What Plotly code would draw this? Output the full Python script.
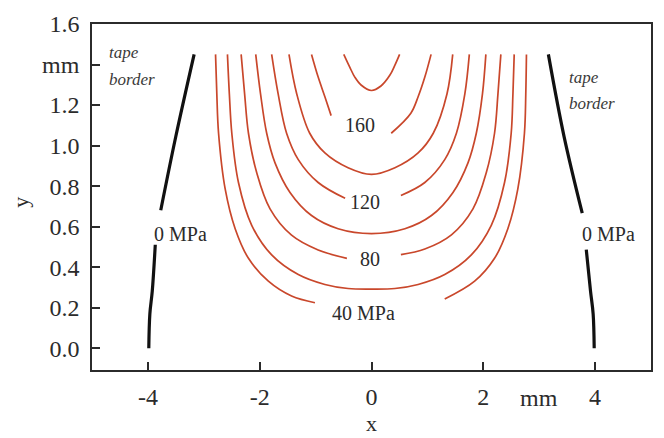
import plotly.graph_objects as go

# ---- contour polylines of the stress field (x in mm, y in mm) ----
# 180 MPa (closed U, no label)
c180_x = [-0.496, -0.389, -0.299, -0.187, 0.0, 0.169, 0.330, 0.419, 0.503]
c180_y = [1.450, 1.387, 1.338, 1.299, 1.272, 1.294, 1.348, 1.397, 1.450]

# 160 MPa (split by its label)
c160a_x = [-1.073, -0.954, -0.834, -0.722]
c160a_y = [1.450, 1.338, 1.241, 1.148]
c160b_x = [0.353, 0.704, 0.834, 0.954, 1.066]
c160b_y = [1.061, 1.160, 1.241, 1.338, 1.450]

# 140 MPa
c140_x = [-1.476, -1.337, -1.105, -0.834, -0.419, 0.0, 0.419, 0.834, 1.105, 1.350, 1.453]
c140_y = [1.450, 1.255, 1.061, 0.964, 0.891, 0.858, 0.891, 0.964, 1.061, 1.255, 1.450]

# 120 MPa (split by its label)
c120a_x = [-1.786, -1.670, -1.519, -1.310, -0.954, -0.472]
c120a_y = [1.450, 1.255, 1.061, 0.931, 0.818, 0.740]
c120b_x = [0.526, 0.954, 1.310, 1.519, 1.670, 1.750]
c120b_y = [0.754, 0.818, 0.931, 1.061, 1.255, 1.450]

# 100 MPa
c100_x = [-2.071, -1.985, -1.875, -1.726, -1.458, -1.073, -0.597, 0.0,
          0.597, 1.073, 1.458, 1.726, 1.875, 1.985, 2.046]
c100_y = [1.450, 1.255, 1.061, 0.915, 0.769, 0.655, 0.590, 0.566,
          0.590, 0.655, 0.769, 0.915, 1.061, 1.255, 1.450]

# 80 MPa (split by its label)
c80a_x = [-2.332, -2.270, -2.201, -2.053, -1.815, -1.430, -0.954, -0.440]
c80a_y = [1.450, 1.255, 1.061, 0.866, 0.688, 0.558, 0.485, 0.444]
c80b_x = [0.526, 0.954, 1.430, 1.815, 2.053, 2.201, 2.262, 2.314]
c80b_y = [0.462, 0.490, 0.560, 0.688, 0.866, 1.061, 1.255, 1.450]

# 60 MPa
c60_x = [-2.577, -2.543, -2.499, -2.380, -2.143, -1.786, -1.310, -0.834, -0.419, 0.0,
         0.419, 0.834, 1.310, 1.786, 2.143, 2.380, 2.499, 2.530, 2.553]
c60_y = [1.450, 1.255, 1.061, 0.818, 0.607, 0.461, 0.364, 0.315, 0.295, 0.292,
         0.295, 0.315, 0.364, 0.461, 0.607, 0.818, 1.061, 1.255, 1.450]

# 40 MPa (split by its label)
c40a_x = [-2.790, -2.767, -2.736, -2.617, -2.439, -2.201, -1.845, -1.430, -1.012]
c40a_y = [1.450, 1.255, 1.061, 0.785, 0.590, 0.444, 0.331, 0.258, 0.225]
c40b_x = [1.310, 1.845, 2.201, 2.439, 2.617, 2.736, 2.760, 2.772]
c40b_y = [0.243, 0.331, 0.444, 0.590, 0.785, 1.061, 1.255, 1.450]

# 0 MPa lines at the tape borders (split by their labels)
b0la_x = [-3.173, -3.500, -3.770]
b0la_y = [1.450, 1.046, 0.681]
b0lb_x = [-3.868, -3.922, -3.965, -3.984]
b0lb_y = [0.511, 0.282, 0.170, 0.0]
b0ra_x = [3.164, 3.444, 3.770]
b0ra_y = [1.450, 1.046, 0.667]
b0rb_x = [3.842, 3.918, 3.965, 3.984]
b0rb_y = [0.487, 0.282, 0.170, 0.0]

# labels on the contours
level_labels = ["160", "120", "80", "40 MPa"]
border_label = "0 MPa"

# axis ticks
x_ticks = [-4, -2, 0, 2, 4]
x_ticktext = ["-4", "-2", "0", "2", "4"]
y_ticks = [0.0, 0.2, 0.4, 0.6, 0.8, 1.0, 1.2, 1.4, 1.6]
y_ticktext = ["0.0", "0.2", "0.4", "0.6", "0.8", "1.0", "1.2", "mm", "1.6"]

RED = "#c9472b"
INK = "#2b2b2b"
FONT = "Liberation Serif"

fig = go.Figure()

red_segments = [
    (c180_x, c180_y), (c160a_x, c160a_y), (c160b_x, c160b_y),
    (c140_x, c140_y), (c120a_x, c120a_y), (c120b_x, c120b_y),
    (c100_x, c100_y), (c80a_x, c80a_y), (c80b_x, c80b_y),
    (c60_x, c60_y), (c40a_x, c40a_y), (c40b_x, c40b_y),
]
for sx, sy in red_segments:
    fig.add_trace(go.Scatter(x=sx, y=sy, mode="lines",
                             line=dict(color=RED, width=1.7, shape="spline", smoothing=1.0),
                             showlegend=False, hoverinfo="skip"))

for sx, sy in [(b0la_x, b0la_y), (b0lb_x, b0lb_y), (b0ra_x, b0ra_y), (b0rb_x, b0rb_y)]:
    fig.add_trace(go.Scatter(x=sx, y=sy, mode="lines",
                             line=dict(color="#111111", width=3.2, shape="spline"),
                             showlegend=False, hoverinfo="skip"))

ann = []
label_pos = [(-0.205, 1.100), (-0.116, 0.720), (-0.027, 0.443), (-0.15, 0.175)]
for txt, (ax, ay) in zip(level_labels, label_pos):
    ann.append(dict(x=ax, y=ay, text=txt, showarrow=False,
                    font=dict(family=FONT, size=20, color=INK)))
for ax in (-3.93, 3.734):
    ann.append(dict(x=ax, y=0.565, text=border_label, showarrow=False, xanchor="left",
                    font=dict(family=FONT, size=20, color=INK)))
for ax, ty, by in ((-4.73, 1.460, 1.328), (3.503, 1.338, 1.207)):
    ann.append(dict(x=ax, y=ty, text="<i>tape</i>", showarrow=False, xanchor="left",
                    font=dict(family=FONT, size=17, color="#3a3a3a")))
    ann.append(dict(x=ax, y=by, text="<i>border</i>", showarrow=False, xanchor="left",
                    font=dict(family=FONT, size=17, color="#3a3a3a")))
# unit label sitting in the x tick row
ann.append(dict(x=3.0, y=-0.08, xref="x", yref="paper", text="mm", showarrow=False,
                yanchor="middle", font=dict(family=FONT, size=24, color=INK)))
# axis titles
ann.append(dict(x=0.0, y=-0.154, xref="x", yref="paper", text="x", showarrow=False,
                yanchor="middle", font=dict(family=FONT, size=22, color=INK)))
ann.append(dict(x=-0.128, y=0.72, xref="paper", yref="y", text="y", showarrow=False,
                textangle=-90, xanchor="center", yanchor="middle",
                font=dict(family=FONT, size=22, color=INK)))

axis_common = dict(showline=True, linecolor=INK, linewidth=1.6, mirror=True,
                   ticks="inside", ticklen=8, tickwidth=1.5, tickcolor=INK,
                   showgrid=False, zeroline=False,
                   tickfont=dict(family=FONT, size=24, color=INK))

fig.update_layout(
    width=664, height=438,
    margin=dict(l=92, r=11, t=20, b=68),
    paper_bgcolor="white", plot_bgcolor="white",
    xaxis=dict(range=[-5.0, 5.0], tickvals=x_ticks, ticktext=x_ticktext,
               ticklabelstandoff=4, **axis_common),
    yaxis=dict(range=[-0.107, 1.6], tickvals=y_ticks, ticktext=y_ticktext,
               ticklabelstandoff=6, **axis_common),
    annotations=ann,
)

fig.write_html("out.html")
